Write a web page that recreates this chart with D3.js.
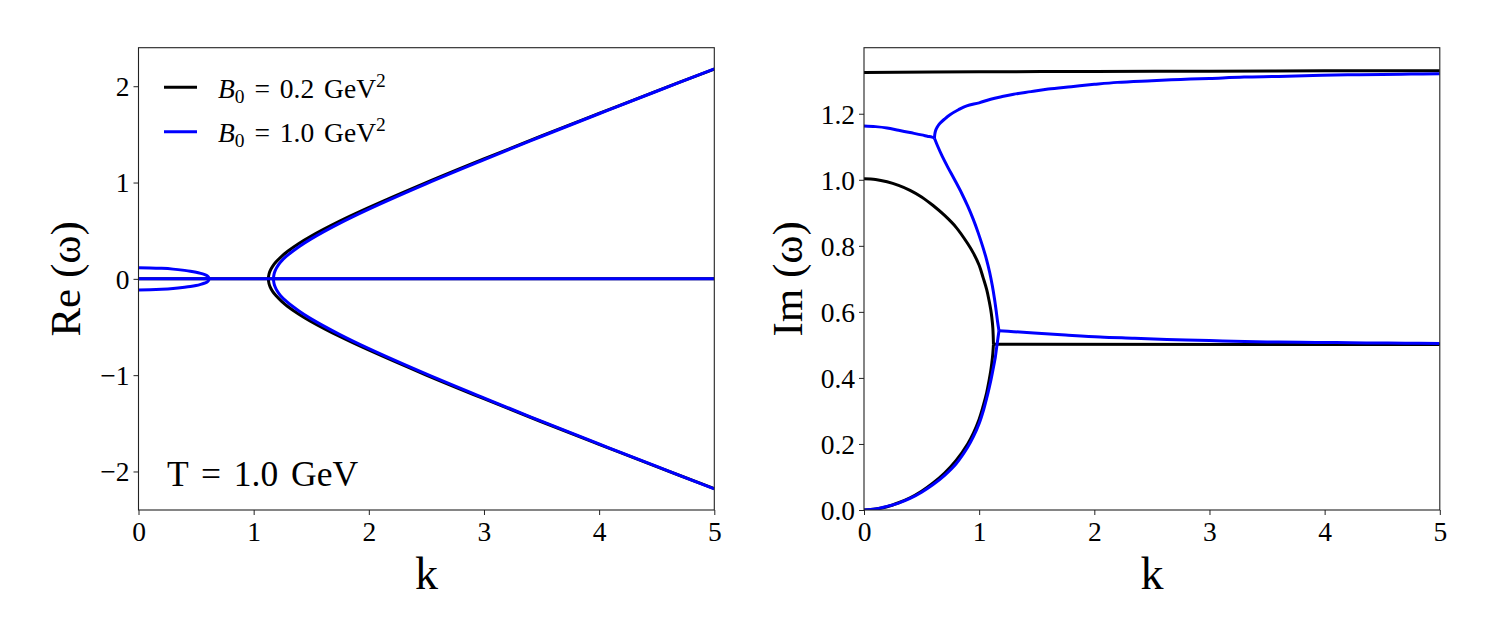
<!DOCTYPE html>
<html>
<head>
<meta charset="utf-8">
<script src="https://cdn.jsdelivr.net/npm/d3@7"></script>
<style>
  html, body { margin: 0; padding: 0; background: #ffffff; }
  svg { display: block; }
  text { font-family: "Liberation Serif", "DejaVu Serif", Times, serif; fill: #000; }
</style>
</head>
<body>
<svg id="chart" width="1495" height="641"></svg>
<script>
// ---------------- DATA ----------------
// Left panel: Re(omega) vs k
const kZero = [0, 5];
const reZero = [0, 0];

// B0 = 0.2 GeV^2 (black) propagating pair
const kReBlack = [1.128, 1.133, 1.143, 1.163, 1.193, 1.243, 1.293, 1.393, 1.493, 1.743, 1.993, 2.493, 2.993, 3.493, 3.993, 4.493, 5];
const reBlackPos = [0, 0.048, 0.083, 0.127, 0.174, 0.234, 0.284, 0.367, 0.439, 0.596, 0.736, 0.996, 1.242, 1.481, 1.715, 1.947, 2.178];
const reBlackNeg = [0, -0.048, -0.083, -0.127, -0.174, -0.234, -0.284, -0.367, -0.439, -0.596, -0.736, -0.996, -1.242, -1.481, -1.715, -1.947, -2.178];

// B0 = 1.0 GeV^2 (blue) propagating pair
const kReBlue = [1.172, 1.177, 1.187, 1.202, 1.232, 1.285, 1.39, 1.492, 1.745, 1.996, 2.497, 2.998, 3.498, 3.999, 4.5, 5];
const reBluePos = [0, 0.049, 0.085, 0.121, 0.172, 0.235, 0.331, 0.410, 0.576, 0.722, 0.987, 1.236, 1.478, 1.714, 1.948, 2.180];
const reBlueNeg = [0, -0.049, -0.085, -0.121, -0.172, -0.235, -0.331, -0.410, -0.576, -0.722, -0.987, -1.236, -1.478, -1.714, -1.948, -2.180];

// B0 = 1.0 GeV^2 (blue) small-k loop
const kLoop = [0, 0.1, 0.2, 0.3, 0.4, 0.45, 0.5, 0.54, 0.57, 0.59, 0.6, 0.606, 0.61, 0.612];
const reLoopPos = [0.115, 0.1135, 0.109, 0.101, 0.088, 0.080, 0.069, 0.057, 0.046, 0.036, 0.029, 0.021, 0.012, 0];
const reLoopNeg = [-0.115, -0.1135, -0.109, -0.101, -0.088, -0.080, -0.069, -0.057, -0.046, -0.036, -0.029, -0.021, -0.012, 0];

// Right panel: Im(omega) vs k
// black
const kImBlack = [0, 0.1, 0.2, 0.3, 0.4, 0.5, 0.6, 0.7, 0.8, 0.9, 0.95, 1.0, 1.035, 1.065, 1.085, 1.1, 1.11, 1.119, 1.124];
const imBlackUp = [1.003, 1.001, 0.994, 0.983, 0.968, 0.948, 0.922, 0.892, 0.856, 0.807, 0.778, 0.741, 0.703, 0.668, 0.636, 0.608, 0.583, 0.550, 0.502];
const imBlackLo = [0, 0.003, 0.010, 0.022, 0.037, 0.057, 0.082, 0.112, 0.150, 0.200, 0.233, 0.275, 0.315, 0.355, 0.390, 0.420, 0.445, 0.475, 0.502];
const kImBlackAfter = [1.124, 5];
const imBlackAfter = [0.502, 0.501];
const kImBlackTop = [0, 1, 2, 3, 4, 5];
const imBlackTop = [1.325, 1.327, 1.328, 1.329, 1.330, 1.330];

// blue
const kBlueA = [0, 0.1, 0.2, 0.3, 0.4, 0.5, 0.55, 0.59, 0.612];
const imBlueA = [1.163, 1.161, 1.157, 1.150, 1.143, 1.136, 1.132, 1.129, 1.126];
const kBlueB = [0.612, 0.614, 0.62, 0.635, 0.66, 0.7, 0.747, 0.82, 0.892, 1.0, 1.1, 1.2, 1.3, 1.45, 1.6, 1.8, 2.0, 2.2, 2.5, 2.75, 3.0, 3.3, 3.6, 3.9, 4.2, 4.5, 4.75, 5];
const imBlueB = [1.126, 1.136, 1.147, 1.159, 1.171, 1.184, 1.197, 1.212, 1.224, 1.233, 1.244, 1.252, 1.259, 1.267, 1.275, 1.282, 1.289, 1.295, 1.300, 1.304, 1.307, 1.311, 1.313, 1.316, 1.318, 1.319, 1.320, 1.321];
const kBlueC = [0.612, 0.642, 0.681, 0.725, 0.787, 0.847, 0.901, 0.949, 0.991, 1.029, 1.063, 1.091, 1.114, 1.133, 1.149, 1.16, 1.172];
const imBlueC = [1.126, 1.100, 1.070, 1.040, 1.000, 0.960, 0.920, 0.880, 0.840, 0.800, 0.760, 0.720, 0.680, 0.640, 0.600, 0.570, 0.543];
const kBlueLo = [0, 0.1, 0.2, 0.3, 0.4, 0.5, 0.6, 0.7, 0.8, 0.9, 0.95, 1.0, 1.04, 1.07, 1.1, 1.12, 1.14, 1.152, 1.163, 1.172];
const imBlueLo = [0, 0.003, 0.011, 0.021, 0.035, 0.054, 0.077, 0.105, 0.140, 0.190, 0.222, 0.262, 0.305, 0.345, 0.390, 0.425, 0.462, 0.493, 0.520, 0.543];
const kBlueAfter = [1.172, 1.3, 1.476, 1.75, 2.05, 2.35, 2.63, 3.0, 3.21, 3.5, 3.79, 4.1, 4.36, 4.7, 5];
const imBlueAfter = [0.543, 0.540, 0.536, 0.530, 0.524, 0.520, 0.516, 0.513, 0.511, 0.509, 0.508, 0.507, 0.506, 0.505, 0.504];

// ticks and labels
const xTicks = [0, 1, 2, 3, 4, 5];
const yTicksRe = [-2, -1, 0, 1, 2];
const yTicksIm = [0, 0.2, 0.4, 0.6, 0.8, 1.0, 1.2];
const legendLabels = [
  { sym: "B", sub: "0", rest: " = 0.2 GeV", sup: "2" },
  { sym: "B", sub: "0", rest: " = 1.0 GeV", sup: "2" }
];
const seriesColors = ["#000000", "#0000ff"];
const annotation = "T = 1.0 GeV";

// ---------------- DRAWING ----------------
const svg = d3.select("#chart");
svg.append("rect").attr("width", 1495).attr("height", 641).attr("fill", "#fff");

const plotTop = 47.7, plotBottom = 510;
const panels = [
  { x0: 138.5, x1: 714.3, ydom: [-2.4, 2.4], ticks: yTicksRe, fmt: d => d < 0 ? "\u2212" + Math.abs(d) : String(d), ylabel: "Re (\u03C9)", ylabelX: 80 },
  { x0: 864, x1: 1439.8, ydom: [0, 1.4], ticks: yTicksIm, fmt: d3.format(".1f"), ylabel: "Im (\u03C9)", ylabelX: 802 }
];

const LW = 3;
const FS_TICK = 27.5;

function zip(ks, vs) { return ks.map((k, i) => [k, vs[i]]); }

panels.forEach((p, pi) => {
  p.x = d3.scaleLinear().domain([0, 5]).range([p.x0, p.x1]);
  p.y = d3.scaleLinear().domain(p.ydom).range([plotBottom, plotTop]);

  const clipId = "clip" + pi;
  svg.append("clipPath").attr("id", clipId)
    .append("rect").attr("x", p.x0).attr("y", plotTop).attr("width", p.x1 - p.x0).attr("height", plotBottom - plotTop);
  p.g = svg.append("g").attr("clip-path", `url(#${clipId})`);
  p.line = d3.line().x(d => p.x(d[0])).y(d => p.y(d[1])).curve(d3.curveCatmullRom.alpha(0.5));

  // axes
  const xa = d3.axisBottom(p.x).tickValues(xTicks).tickFormat(d3.format("d")).tickSizeInner(5).tickSizeOuter(0).tickPadding(4);
  const gx = svg.append("g").attr("transform", `translate(0,${plotBottom})`).call(xa);
  const ya = d3.axisLeft(p.y).tickValues(p.ticks).tickFormat(p.fmt).tickSizeInner(5).tickSizeOuter(0).tickPadding(4);
  const gy = svg.append("g").attr("transform", `translate(${p.x0},0)`).call(ya);
  [gx, gy].forEach(g => {
    g.select(".domain").remove();
    g.selectAll(".tick line").attr("stroke", "#222").attr("stroke-width", 1);
    g.selectAll(".tick text").attr("font-family", "Liberation Serif, Times, serif").attr("font-size", FS_TICK).attr("fill", "#000");
  });
  gx.selectAll(".tick text").attr("dy", null).attr("y", 30.5);
  gy.selectAll(".tick text").attr("dy", "0.34em").attr("x", -9);

  // axis labels
  svg.append("text").attr("x", (p.x0 + p.x1) / 2).attr("y", 589).attr("text-anchor", "middle")
    .attr("font-size", 46).text("k");
  svg.append("text").attr("transform", `translate(${p.ylabelX},${(plotTop + plotBottom) / 2}) rotate(-90)`)
    .attr("text-anchor", "middle").attr("font-size", 43).text(p.ylabel);
});

const L = panels[0], R = panels[1];

function draw(panel, pts, color) {
  panel.g.append("path").datum(pts).attr("d", panel.line)
    .attr("fill", "none").attr("stroke", color).attr("stroke-width", LW)
    .attr("stroke-linejoin", "round").attr("stroke-linecap", "butt");
}

// Left panel: black
draw(L, zip(kZero, reZero), seriesColors[0]);
draw(L, zip(kReBlack, reBlackNeg).reverse().concat(zip(kReBlack, reBlackPos).slice(1)), seriesColors[0]);
// Left panel: blue
draw(L, zip(kZero, reZero), seriesColors[1]);
draw(L, zip(kLoop, reLoopPos).concat(zip(kLoop, reLoopNeg).reverse().slice(1)), seriesColors[1]);
draw(L, zip(kReBlue, reBlueNeg).reverse().concat(zip(kReBlue, reBluePos).slice(1)), seriesColors[1]);

// Right panel: black
draw(R, zip(kImBlackTop, imBlackTop), seriesColors[0]);
draw(R, zip(kImBlack, imBlackUp), seriesColors[0]);
draw(R, zip(kImBlack, imBlackLo), seriesColors[0]);
draw(R, zip(kImBlackAfter, imBlackAfter), seriesColors[0]);
// Right panel: blue
draw(R, zip(kBlueA, imBlueA), seriesColors[1]);
draw(R, zip(kBlueB, imBlueB), seriesColors[1]);
draw(R, zip(kBlueC, imBlueC), seriesColors[1]);
draw(R, zip(kBlueLo, imBlueLo), seriesColors[1]);
draw(R, zip(kBlueAfter, imBlueAfter), seriesColors[1]);

// frames
panels.forEach(p => {
  svg.append("rect").attr("x", p.x0).attr("y", plotTop).attr("width", p.x1 - p.x0).attr("height", plotBottom - plotTop)
    .attr("fill", "none").attr("stroke", "#222").attr("stroke-width", 1.1);
});

// legend (left panel)
legendLabels.forEach((lab, i) => {
  const ly = 87.3 + i * 44.4;
  svg.append("line").attr("x1", 164).attr("x2", 197).attr("y1", ly).attr("y2", ly)
    .attr("stroke", seriesColors[i]).attr("stroke-width", LW);
  const t = svg.append("text").attr("x", 218).attr("y", ly + 10.4).attr("font-size", 27.5)
    .attr("word-spacing", 3);
  t.append("tspan").attr("font-style", "italic").text(lab.sym);
  t.append("tspan").attr("font-size", 19.5).attr("dy", 5).text(lab.sub);
  t.append("tspan").attr("dy", -5).text(lab.rest);
  t.append("tspan").attr("font-size", 19.5).attr("dy", -11).text(lab.sup);
});

// annotation
svg.append("text").attr("x", 167).attr("y", 486).attr("font-size", 35.5).attr("word-spacing", 4).text(annotation);
</script>
</body>
</html>
